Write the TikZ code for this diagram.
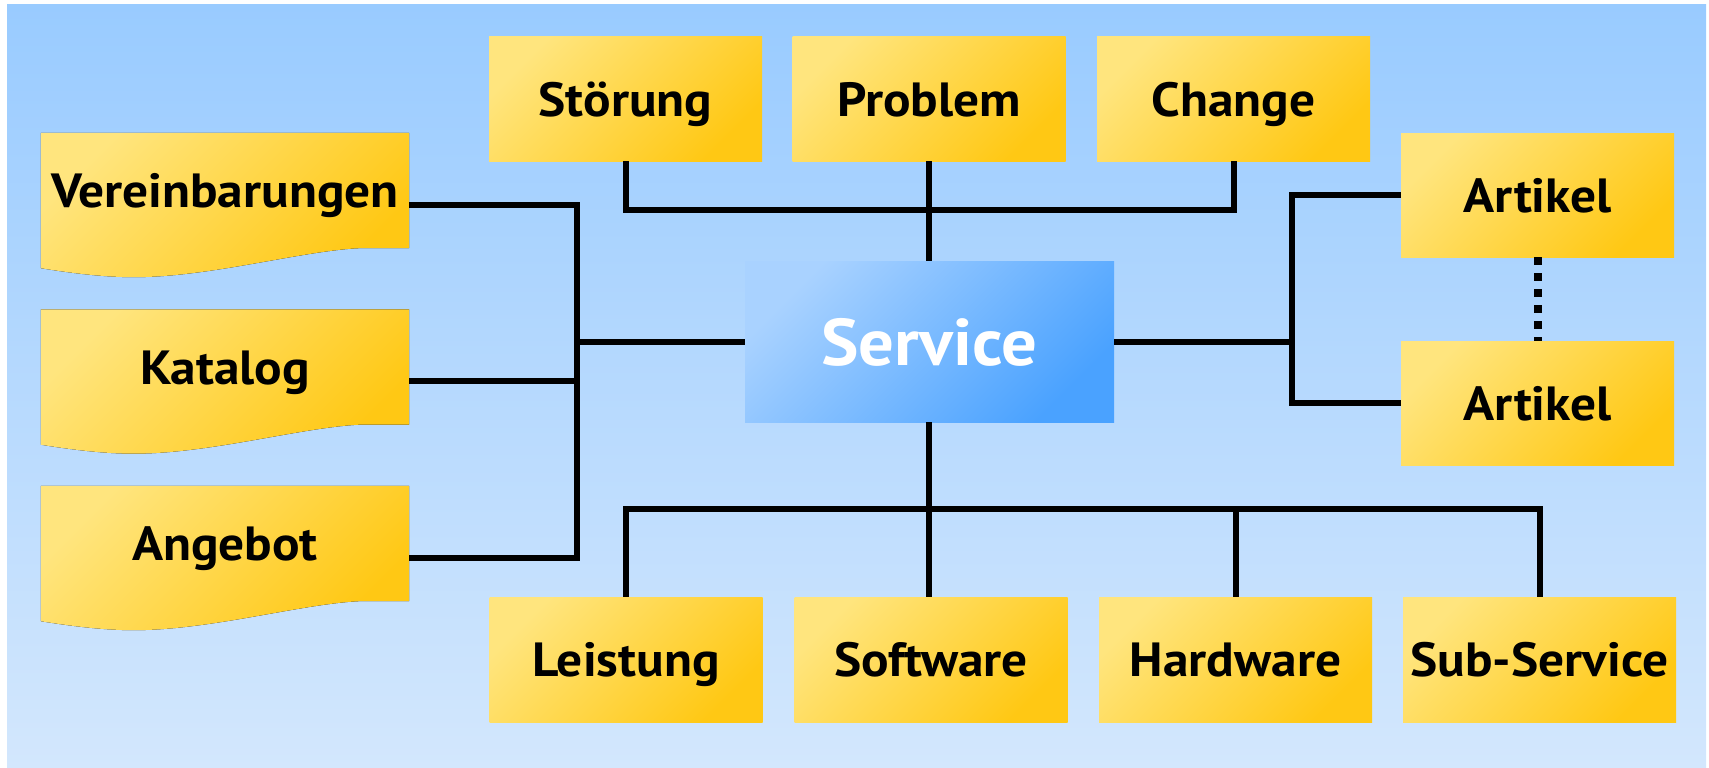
\documentclass[tikz,border=0pt]{standalone}
\usepackage{fontspec}
\setmainfont{PT Sans}
\newfontfamily\labelface{PT Sans}[FakeStretch=1.07]
\usetikzlibrary{calc,backgrounds}

\definecolor{ylight}{HTML}{FFE57E}
\definecolor{ydark}{HTML}{FFC814}
\definecolor{blight}{HTML}{A9D2FF}
\definecolor{bdark}{HTML}{4AA2FF}
\definecolor{bgtop}{HTML}{99CBFF}
\definecolor{bgbot}{HTML}{D3E7FD}

% yellow document shape with a wavy lower edge, drawn around a named node
\newcommand\docshape[1]{%
  \fill[yfill] (#1.north west) -- (#1.north east) -- (#1.south east)
    -- ($(#1.south west)+(318,0)$)
    .. controls ($(#1.south west)+(259,3)$) and ($(#1.south west)+(169,29)$) .. ($(#1.south west)+(93,29)$)
    .. controls ($(#1.south west)+(60,29)$) and ($(#1.south west)+(25,24)$) .. ($(#1.south west)+(0,20)$)
    -- cycle;}

\begin{document}
\begin{tikzpicture}[x=1pt,y=-1pt,
  yfill/.style={top color=ylight,bottom color=ydark,shading angle=45},
  labelfont/.style={font=\labelface\fontsize{48}{50}\selectfont\bfseries,text height=34pt,text depth=0pt},
  itembox/.style={yfill,rectangle,inner sep=0pt,minimum width=273pt,minimum height=124pt,labelfont},
  doclabel/.style={rectangle,inner sep=0pt,minimum width=368pt,minimum height=115pt,labelfont},
  servicebox/.style={top color=blight,bottom color=bdark,shading angle=45,rectangle,inner sep=0pt,
    minimum width=369pt,minimum height=161pt,text=white,
    font=\labelface\fontsize{66}{70}\selectfont\bfseries,text height=47pt,text depth=0pt},
  link/.style={line width=6pt,black},
  dotlink/.style={line width=8pt,black,dash pattern=on 8pt off 8pt}]

\useasboundingbox (0,0) rectangle (1709,768);

\begin{scope}[on background layer]
  \fill[top color=bgtop,bottom color=bgbot] (7,5) rectangle (1706,768);
\end{scope}

% central service
\node[servicebox] (svc) at (929.5,341.5) {Service};

% process boxes on top
\node[itembox] (st) at (625.5,99) {Störung};
\node[itembox] (pr) at (929,99) {Problem};
\node[itembox] (ch) at (1233.5,99) {Change};

% documents on the left
\node[doclabel] (vb) at (225,190.5) {Vereinbarungen};
\node[doclabel] (kat) at (225,367) {Katalog};
\node[doclabel] (ang) at (225,543.5) {Angebot};

\begin{scope}[on background layer]
  \docshape{vb}
  \docshape{kat}
  \docshape{ang}
\end{scope}

% articles on the right
\node[itembox] (a1) at (1537.5,195) {Artikel};
\node[itembox] (a2) at (1537.5,403) {Artikel};

% components at the bottom
\node[itembox,minimum height=125pt] (le) at (626,659.5) {Leistung};
\node[itembox,minimum height=125pt] (sw) at (931,659.5) {Software};
\node[itembox,minimum height=125pt] (hw) at (1235.5,659.5) {Hardware};
\node[itembox,minimum height=125pt] (ss) at (1539.5,659.5) {Sub-Service};

% junction points of the buses
\coordinate (tb) at (929,210);
\coordinate (lb) at (577,341.5);
\coordinate (rb) at (1292,341.5);
\coordinate (bb) at (929,509);
\coordinate (vbc) at ($(vb.north east)+(0,72)$);
\coordinate (katc) at ($(kat.north east)+(0,72)$);
\coordinate (angc) at ($(ang.north east)+(0,72)$);

% top bus
\draw[link] (st.south) |- (tb) -| (ch.south);
\draw[link] (pr.south) -- (pr.south |- svc.north);

% left bus
\draw[link] (vbc) -| (lb);
\draw[link] (angc) -| (lb);
\draw[link] (katc) -- (katc -| lb);
\draw[link] (svc.west) -- (lb);

% right bus
\draw[link] (a1.west) -| (rb) |- (a2.west);
\draw[link] (svc.east) -- (rb);
\draw[dotlink] (a1.south) -- (a2.north);

% bottom bus
\draw[link] (svc.south -| bb) -- (bb);
\draw[link] (le.north) |- (bb) -| (ss.north);
\draw[link] (sw.north -| bb) -- (bb);
\draw[link] (hw.north) -- (hw.north |- bb);

\end{tikzpicture}
\end{document}
